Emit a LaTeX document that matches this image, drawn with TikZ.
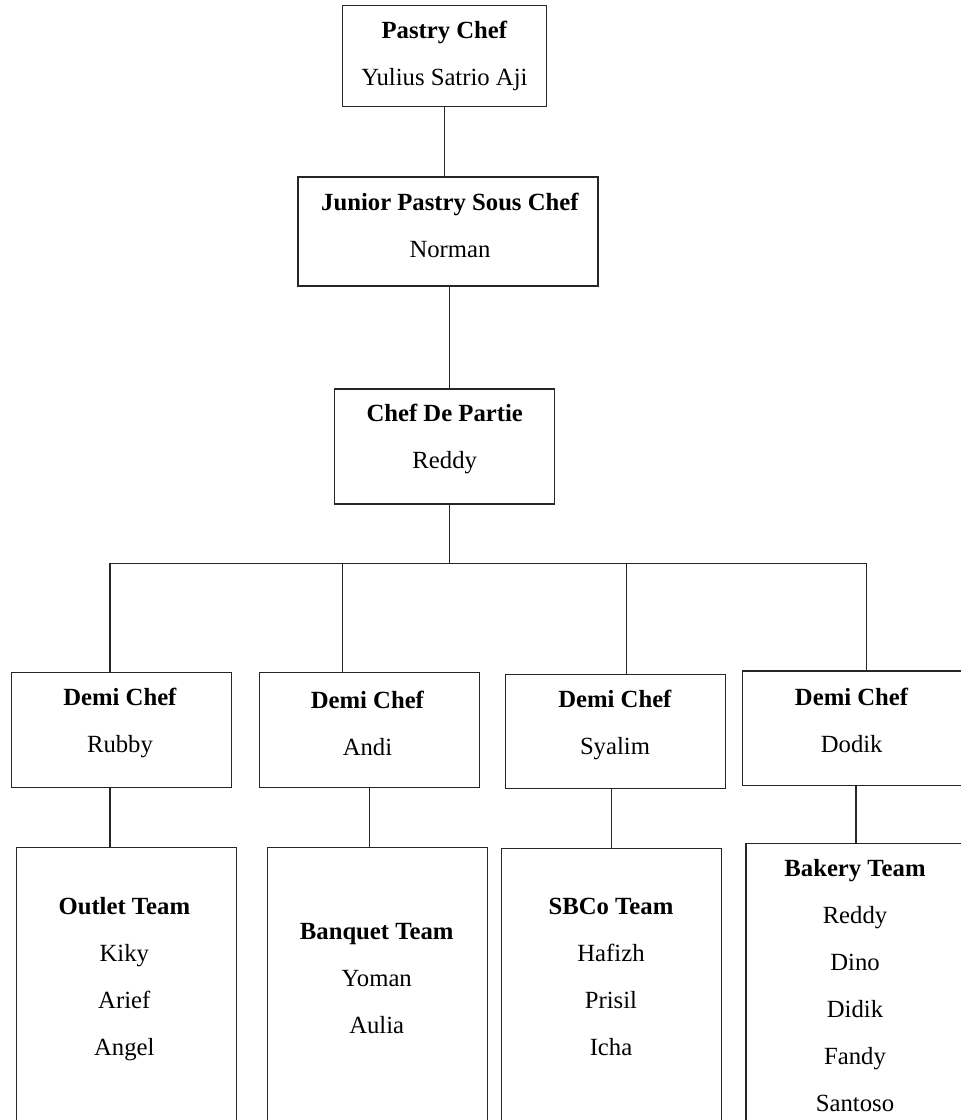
\documentclass[tikz,border=0pt]{standalone}
\usepackage{fontspec}
\setmainfont{Liberation Serif}

\begin{document}
\begin{tikzpicture}[x=1pt,y=-1pt,
  box/.style={draw=black!85, line width=1.3pt, inner sep=0pt, minimum width=220pt},
  txt/.style={align=center, inner sep=0pt, font=\fontsize{24.7}{47}\selectfont},
  tie/.style={draw=black!85, line width=1.3pt}]
\useasboundingbox (0,0) rectangle (961,1120);
\clip (0,0) rectangle (961,1120);
\node [box, minimum width=204.4pt, minimum height=101pt] (pastry) at (444.5,56.2) {};
\node [txt] (pastryTxt) at (444.5,55.5) {\textbf{Pastry Chef}\\Yulius Satrio Aji};
\node [box, minimum width=300pt, minimum height=109pt] (junior) at (448,231.5) {};
\node [txt] (juniorTxt) at (450,225) {\textbf{Junior Pastry Sous Chef}\\Norman};
\node [box, minimum height=115pt] (partie) at (444.7,446.5) {};
\node [txt] (partieTxt) at (444.7,439) {\textbf{Chef De Partie}\\Reddy};
\node [box, minimum height=115pt] (rubby) at (121.7,729.8) {};
\node [txt] (rubbyTxt) at (120,723) {\textbf{Demi Chef}\\Rubby};
\node [box, minimum height=115pt] (andi) at (369.2,729.8) {};
\node [txt] (andiTxt) at (367.5,723) {\textbf{Demi Chef}\\Andi};
\node [box, minimum height=114.4pt] (syalim) at (615.3,731.5) {};
\node [txt] (syalimTxt) at (615,725) {\textbf{Demi Chef}\\Syalim};
\node [box, minimum height=114.7pt] (dodik) at (852.7,728.3) {};
\node [txt] (dodikTxt) at (851.7,720.3) {\textbf{Demi Chef}\\Dodik};
\node [box, minimum height=300pt] (outlet) at (126.3,997.7) {};
\node [txt] (outletTxt) at (124.3,978.8) {\textbf{Outlet Team}\\Kiky\\Arief\\Angel};
\node [box, minimum height=300pt] (banquet) at (377.3,997.7) {};
\node [txt] (banquetTxt) at (376.7,978.2) {\textbf{Banquet Team}\\Yoman\\Aulia};
\node [box, minimum height=300pt] (sbco) at (611.8,998.3) {};
\node [txt] (sbcoTxt) at (611,977) {\textbf{SBCo Team}\\Hafizh\\Prisil\\Icha};
\node [box, minimum height=300pt] (bakery) at (856,993.3) {};
\node [txt] (bakeryTxt) at (855,986) {\textbf{Bakery Team}\\Reddy\\Dino\\Didik\\Fandy\\Santoso};
\coordinate (bus) at (449.3,563.3);
\coordinate (rubbyTie) at (110,0);
\coordinate (andiTie) at (342.7,0);
\coordinate (syalimTie) at (626.7,0);
\coordinate (dodikTie) at (866.7,0);
\draw [tie] (pastry.south) -- (pastry.south |- junior.north);
\draw [tie] (bus |- junior.south) -- (bus |- partie.north);
\draw [tie] (bus |- partie.south) -- (bus);
\draw [tie] (rubbyTie |- rubby.north) |- (bus) -| (dodikTie |- dodik.north);
\draw [tie] (andiTie |- bus) -- (andiTie |- andi.north);
\draw [tie] (syalimTie |- bus) -- (syalimTie |- syalim.north);
\draw [tie] (rubbyTie |- rubby.south) -- (rubbyTie |- outlet.north);
\draw [tie] (andi.south) -- (andi.south |- banquet.north);
\draw [tie] (sbco.north) -- (sbco.north |- syalim.south);
\draw [tie] (bakery.north) -- (bakery.north |- dodik.south);
\end{tikzpicture}
\end{document}
